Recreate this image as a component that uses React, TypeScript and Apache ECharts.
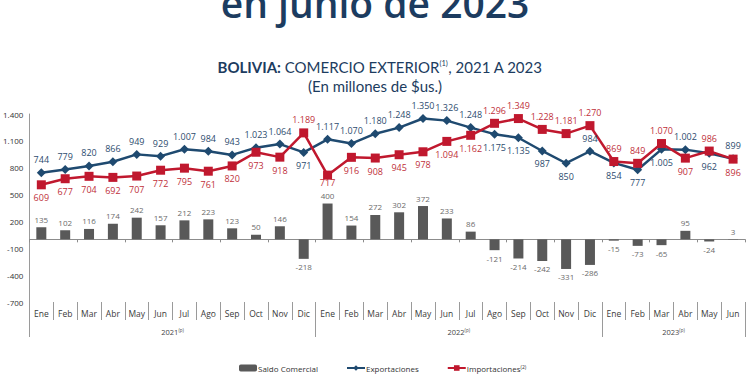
import React, { useEffect, useRef } from "react";
import * as echarts from "echarts";

const monthNames = ["Ene", "Feb", "Mar", "Abr", "May", "Jun", "Jul", "Ago", "Sep", "Oct", "Nov", "Dic"];
const months = [...monthNames, ...monthNames, ...monthNames.slice(0, 6)];

const exportaciones = [744, 779, 820, 866, 949, 929, 1007, 984, 943, 1023, 1064, 971, 1117, 1070, 1180, 1248, 1350, 1326, 1248, 1175, 1135, 987, 850, 984, 854, 777, 1005, 1002, 962, 899];
const importaciones = [609, 677, 704, 692, 707, 772, 795, 761, 820, 973, 918, 1189, 717, 916, 908, 945, 978, 1094, 1162, 1296, 1349, 1228, 1181, 1270, 869, 849, 1070, 907, 986, 896];
const saldo = [135, 102, 116, 174, 242, 157, 212, 223, 123, 50, 146, -218, 400, 154, 272, 302, 372, 233, 86, -121, -214, -242, -331, -286, -15, -73, -65, 95, -24, 3];

const years = ["2021", "2022", "2023"];
const yearCenters = [6, 18, 27];
const yearBounds = [0, 12, 24, 30];

// label placement (style): indices with label below / above
const expBelow = [11, 19, 20, 21, 22, 24, 25, 26, 28];
const impAbove = [11, 19, 20, 21, 22, 23, 24, 25, 26, 28];
const impTight = [12];

const fmt = (v: number) => {
  const s = String(Math.abs(v)).replace(/\B(?=(\d{3})+(?!\d))/g, ".");
  return v < 0 ? "-" + s : s;
};

const FONT = "'Open Sans', 'Noto Sans', sans-serif";
const NAVY = "#1c3c60";
const BLUE = "#1f4a70";
const RED = "#c0182e";

export default function App() {
  const ref = useRef<HTMLDivElement>(null);
  useEffect(() => {
    document.body.style.margin = "0";
    const chart = echarts.init(ref.current!, null, { renderer: "svg" });
    const option: any = {
      animation: false,
      textStyle: { fontFamily: FONT },
      graphic: [
        {
          type: "text",
          x: 375,
          y: 2,
          style: {
            text: "en junio de 2023",
            align: "center",
            verticalAlign: "middle",
            fontFamily: FONT,
            fontSize: 39,
            fontWeight: 600,
            fill: NAVY,
          },
        },
        {
          type: "text",
          x: 380,
          y: 67,
          style: {
            text: "{b|BOLIVIA:} COMERCIO EXTERIOR{s|(1)}, 2021 A 2023",
            align: "center",
            verticalAlign: "middle",
            fontFamily: "Lato, sans-serif",
            fontSize: 15,
            fill: NAVY,
            rich: {
              b: { fontFamily: "Lato, sans-serif", fontSize: 15, fontWeight: "bold", fill: NAVY },
              s: { fontFamily: "Lato, sans-serif", fontSize: 7.5, fill: NAVY, verticalAlign: "top", padding: [0, 0, 8, 0] },
            },
          },
        },
        {
          type: "text",
          x: 375,
          y: 86,
          style: {
            text: "(En millones de $us.)",
            align: "center",
            verticalAlign: "middle",
            fontFamily: "Lato, sans-serif",
            fontSize: 15,
            fill: NAVY,
          },
        },
      ],
      legend: {
        left: 239,
        top: 364,
        padding: 0,
        itemGap: 28,
        itemWidth: 18,
        itemHeight: 7,
        data: ["Saldo Comercial", "Exportaciones", "Importaciones"],
        formatter: (name: string) => (name === "Importaciones" ? "Importaciones{s|(2)}" : name),
        textStyle: {
          fontFamily: FONT,
          fontSize: 8,
          color: "#333",
          padding: [0, 0, 0, -4],
          rich: { s: { fontSize: 5, color: "#333", verticalAlign: "top" } },
        },
      },
      grid: { left: 28, right: 5, top: 114, bottom: 73 },
      xAxis: [
        {
          type: "category",
          data: months,
          axisLine: { onZero: true, lineStyle: { color: "#8c8c8c", width: 1 } },
          axisTick: { show: true, length: 3, lineStyle: { color: "#8c8c8c" } },
          axisLabel: { show: false },
        },
        {
          type: "category",
          data: months,
          position: "bottom",
          axisLine: { show: false, onZero: false },
          axisTick: { show: true, length: 18, lineStyle: { color: "#9a9a9a" } },
          axisLabel: { margin: 7, fontSize: 8.5, color: "#3a3a3a", fontFamily: FONT },
        },
        {
          type: "value",
          min: 0,
          max: 30,
          position: "bottom",
          axisLine: { show: false, onZero: false },
          splitLine: { show: false },
          axisTick: { show: true, customValues: yearBounds, length: 35, lineStyle: { color: "#9a9a9a" } },
          axisLabel: {
            customValues: yearCenters,
            margin: 25,
            fontSize: 7.5,
            color: "#444",
            formatter: (v: number) => `${years[yearCenters.indexOf(v)]}{s|(p)}`,
            rich: { s: { fontSize: 4.5, color: "#444", verticalAlign: "top", padding: [0, 0, 4, 0] } },
          },
        },
      ],
      yAxis: {
        type: "value",
        min: -700,
        max: 1400,
        interval: 300,
        splitLine: { show: false },
        axisLine: { show: true, lineStyle: { color: "#9a9a9a" } },
        axisTick: { show: false },
        axisLabel: { formatter: (v: number) => fmt(v), fontSize: 8, color: "#333", margin: 6, fontFamily: FONT },
      },
      series: [
        {
          type: "bar",
          name: "Saldo Comercial",
          xAxisIndex: 0,
          barWidth: 10,
          itemStyle: { color: "#595959" },
          data: saldo.map((v) => ({ value: v, label: { position: v < 0 ? "bottom" : "top" } })),
          label: { show: true, fontSize: 8, color: "#6b6b6b", distance: 4, formatter: (p: any) => fmt(p.value) },
        },
        {
          type: "line",
          name: "Exportaciones",
          xAxisIndex: 0,
          symbol: "diamond",
          symbolSize: 9,
          lineStyle: { color: BLUE, width: 2.5 },
          itemStyle: { color: BLUE },
          data: exportaciones.map((v, i) => ({ value: v, label: { position: expBelow.includes(i) ? "bottom" : "top" } })),
          label: { show: true, fontSize: 9, color: "#2d4c6e", distance: 4, formatter: (p: any) => fmt(p.value) },
        },
        {
          type: "line",
          name: "Importaciones",
          xAxisIndex: 0,
          symbol: "rect",
          symbolSize: 9,
          lineStyle: { color: RED, width: 2.5 },
          itemStyle: { color: RED },
          data: importaciones.map((v, i) => ({
            value: v,
            label: { position: impAbove.includes(i) ? "top" : "bottom", distance: impTight.includes(i) ? -2 : 4 },
          })),
          label: { show: true, fontSize: 9, color: "#c0303a", formatter: (p: any) => fmt(p.value) },
        },
      ],
    };
    chart.setOption(option);
    return () => chart.dispose();
  }, []);
  return <div ref={ref} style={{ width: 750, height: 375 }} />;
}
